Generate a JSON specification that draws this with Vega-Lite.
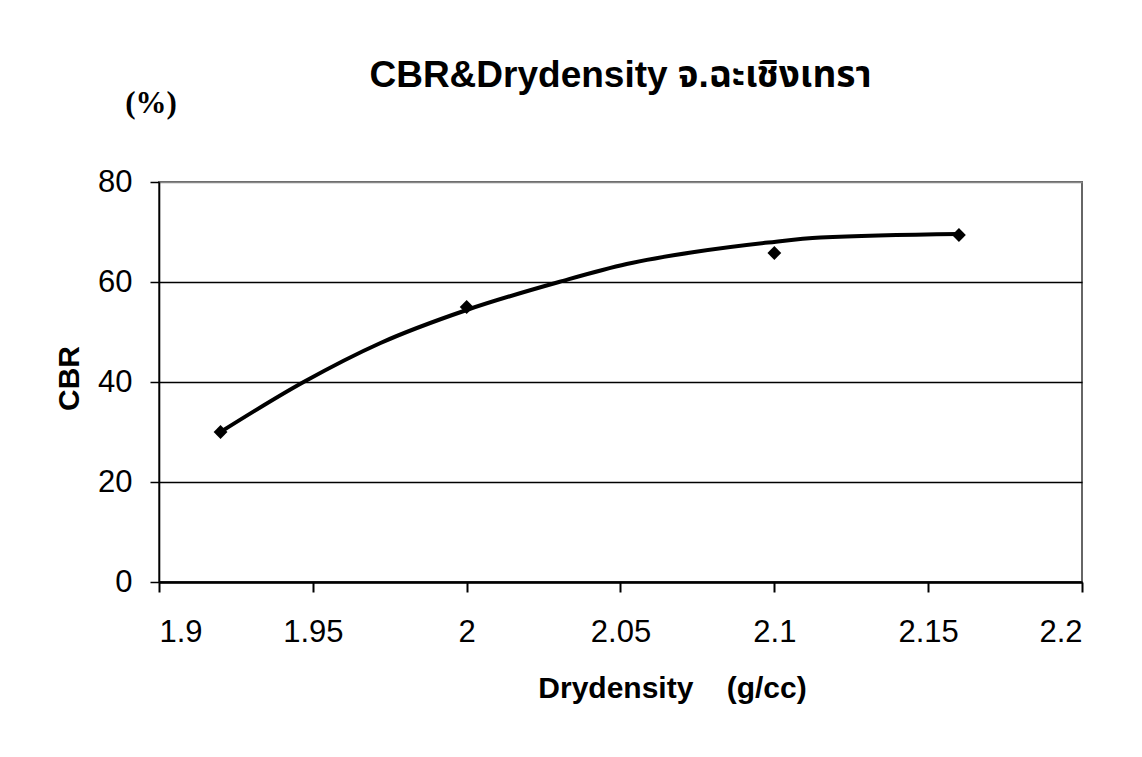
{
  "$schema": "https://vega.github.io/schema/vega-lite/v6.json",
  "width": 923,
  "height": 400,
  "autosize": {"type": "none"},
  "padding": {"left": 159, "top": 182, "right": 60, "bottom": 175},
  "background": "white",
  "title": {
    "text": "CBR&Drydensity จ.ฉะเชิงเทรา",
    "font": "Liberation Sans, Noto Sans Thai, Tahoma, sans-serif",
    "fontSize": 37,
    "fontWeight": "bold",
    "color": "black",
    "anchor": "middle",
    "frame": "group",
    "baseline": "alphabetic",
    "offset": 0,
    "dy": 36
  },
  "datasets": {
    "points": [
      {"density": 1.92, "cbr": 30},
      {"density": 2.0, "cbr": 55},
      {"density": 2.1, "cbr": 65.8},
      {"density": 2.16, "cbr": 69.4}
    ],
    "trend": [
      {"density": 1.92, "cbr": 30},
      {"density": 1.947, "cbr": 40},
      {"density": 1.972, "cbr": 47.8},
      {"density": 2.0, "cbr": 54.4},
      {"density": 2.03, "cbr": 60},
      {"density": 2.052, "cbr": 63.6},
      {"density": 2.074, "cbr": 66},
      {"density": 2.098, "cbr": 67.9},
      {"density": 2.115, "cbr": 68.9},
      {"density": 2.16, "cbr": 69.6}
    ]
  },
  "layer": [
    {
      "data": {"name": "trend"},
      "mark": {"type": "line", "color": "black", "strokeWidth": 4, "interpolate": "monotone"},
      "encoding": {
        "x": {
          "field": "density",
          "type": "quantitative",
          "scale": {"domain": [1.9, 2.2], "nice": false, "zero": false},
          "axis": {
            "values": [1.9, 1.95, 2.0, 2.05, 2.1, 2.15, 2.2],
            "format": "~g",
            "grid": false,
            "title": "Drydensity\u00a0\u00a0\u00a0\u00a0(g/cc)",
            "titleFont": "Liberation Sans, sans-serif",
            "titleFontSize": 30,
            "titleFontWeight": "bold",
            "titleColor": "black",
            "titleX": 513,
            "titleY": 115,
            "titleAlign": "center",
            "titleBaseline": "alphabetic",
            "labelFont": "Liberation Sans, sans-serif",
            "labelFontSize": 31,
            "labelColor": "black",
            "labelBaseline": "top",
            "labelPadding": 25,
            "tickSize": 10,
            "tickColor": "black",
            "tickWidth": 2,
            "domainColor": "black",
            "domainWidth": 2.5
          }
        },
        "y": {
          "field": "cbr",
          "type": "quantitative",
          "scale": {"domain": [0, 80], "nice": false},
          "axis": {
            "values": [0, 20, 40, 60, 80],
            "grid": true,
            "gridColor": {"condition": {"test": "datum.value === 80", "value": "#888888"}, "value": "black"},
            "gridWidth": 1.6,
            "title": "CBR",
            "titleFont": "Liberation Sans, sans-serif",
            "titleFontSize": 30,
            "titleFontWeight": "bold",
            "titleColor": "black",
            "titleAngle": 270,
            "titleX": -90,
            "titleY": 196,
            "titleAlign": "center",
            "titleBaseline": "middle",
            "labelFont": "Liberation Sans, sans-serif",
            "labelFontSize": 31,
            "labelColor": "black",
            "labelPadding": 18,
            "tickSize": 9,
            "tickColor": "black",
            "tickWidth": 1.5,
            "domainColor": "black",
            "domainWidth": 1.6
          }
        }
      }
    },
    {
      "data": {"name": "points"},
      "mark": {"type": "point", "shape": "diamond", "filled": true, "color": "black", "size": 190, "opacity": 1},
      "encoding": {
        "x": {"field": "density", "type": "quantitative"},
        "y": {"field": "cbr", "type": "quantitative"}
      }
    },
    {
      "data": {"values": [{"unit": "(%)"}]},
      "mark": {
        "type": "text",
        "font": "Liberation Serif, serif",
        "fontSize": 31,
        "fontWeight": "bold",
        "color": "black",
        "align": "center",
        "baseline": "middle",
        "dx": -8,
        "dy": -78
      },
      "encoding": {
        "x": {"datum": 1.9},
        "y": {"datum": 80},
        "text": {"field": "unit"}
      }
    }
  ],
  "config": {
    "view": {"stroke": "#666666", "strokeWidth": 2}
  }
}
